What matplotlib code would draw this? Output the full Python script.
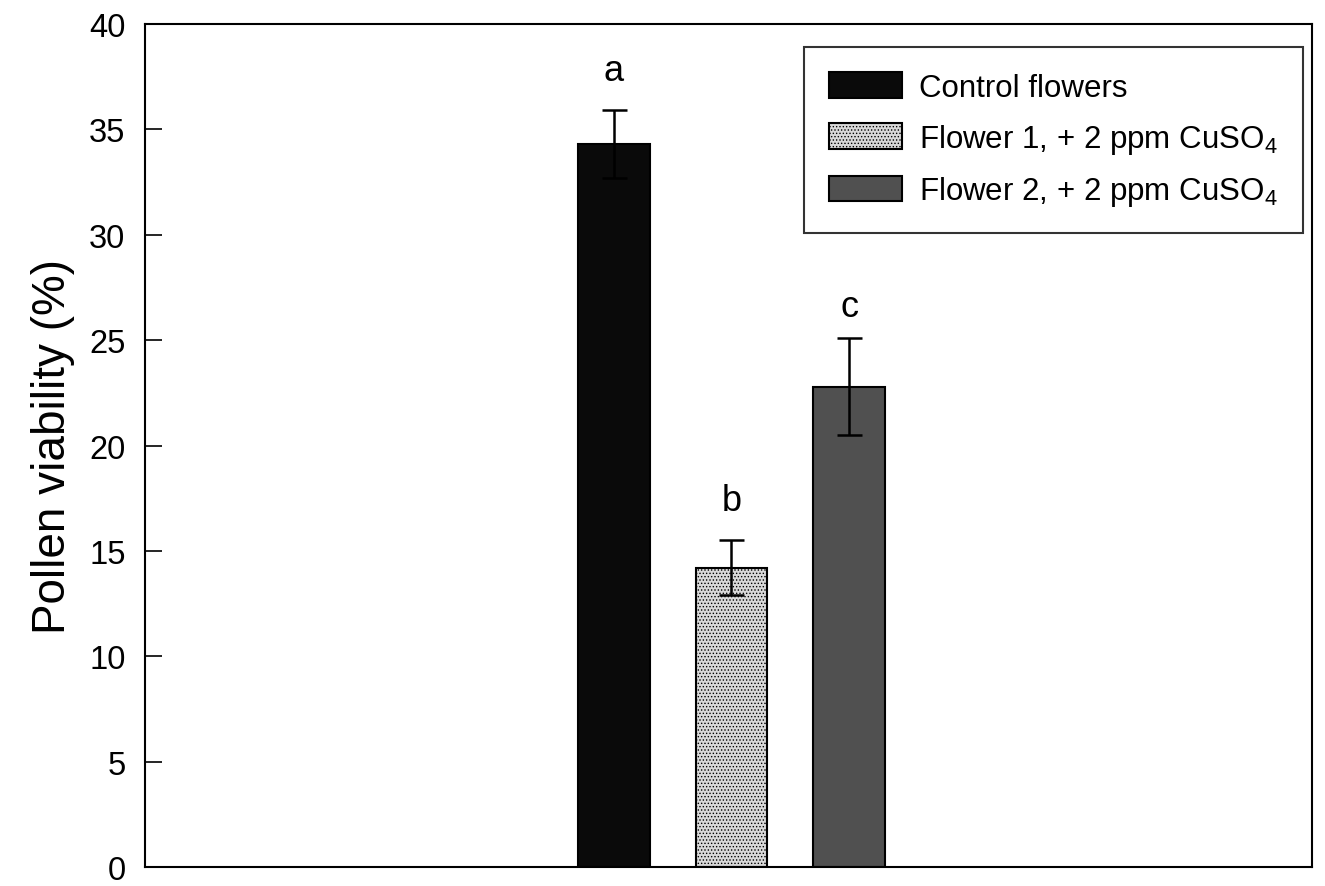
import matplotlib
matplotlib.use("Agg")
import matplotlib.pyplot as plt

plt.rcParams['font.family'] = ['Liberation Sans', 'DejaVu Sans']
plt.rcParams['mathtext.fontset'] = 'custom'
plt.rcParams['mathtext.rm'] = 'Liberation Sans'
plt.rcParams['mathtext.it'] = 'Liberation Sans'
plt.rcParams['hatch.linewidth'] = 0.6

categories = ['Control flowers', 'Flower 1, + 2 ppm CuSO$_4$', 'Flower 2, + 2 ppm CuSO$_4$']
values = [34.3, 14.2, 22.8]
errors = [1.6, 1.3, 2.3]
letters = ['a', 'b', 'c']
yticks = [0, 5, 10, 15, 20, 25, 30, 35, 40]

facecolors = ['#0a0a0a', '#d9d9d9', '#505050']
hatches = [None, '.....', None]

fig = plt.figure(figsize=(13.25, 8.87), dpi=100)
ax = fig.add_axes([0.1094, 0.0214, 0.8808, 0.9504])

x = list(range(len(values)))
for xi, v, fc, h, lab in zip(x, values, facecolors, hatches, categories):
    ax.bar(xi, v, width=0.61, color=fc, edgecolor='black', linewidth=1.5, label=lab,
           hatch=h, zorder=2)
ax.errorbar(x, values, yerr=errors, fmt='none', ecolor='black', elinewidth=1.8,
            capsize=9, capthick=1.8, zorder=4)

label_y = [37.8, 17.4, 26.6]
for xi, t, ly in zip(x, letters, label_y):
    ax.text(xi, ly, t, ha='center', va='center', fontsize=26)

ax.set_xlim(-3.98, 5.93)
ax.set_ylim(0, 40)
ax.set_yticks(yticks)
ax.set_yticklabels([str(t) for t in yticks], fontsize=23.5)
ax.tick_params(axis='y', direction='in', length=12, width=1.2, pad=14)
ax.set_xticks([])
for s in ax.spines.values():
    s.set_linewidth(1.5)
ax.set_ylabel('Pollen viability (%)', fontsize=33, labelpad=10)

leg = ax.legend(loc='upper right', bbox_to_anchor=(0.9923, 0.9727), borderaxespad=0,
                fontsize=22.5, frameon=True, fancybox=False, edgecolor='black',
                handlelength=2.35, handleheight=0.9, labelspacing=0.6, borderpad=0.8,
                handletextpad=0.55)
leg.get_frame().set_linewidth(1.5)

fig.savefig('out.png', dpi=100)
